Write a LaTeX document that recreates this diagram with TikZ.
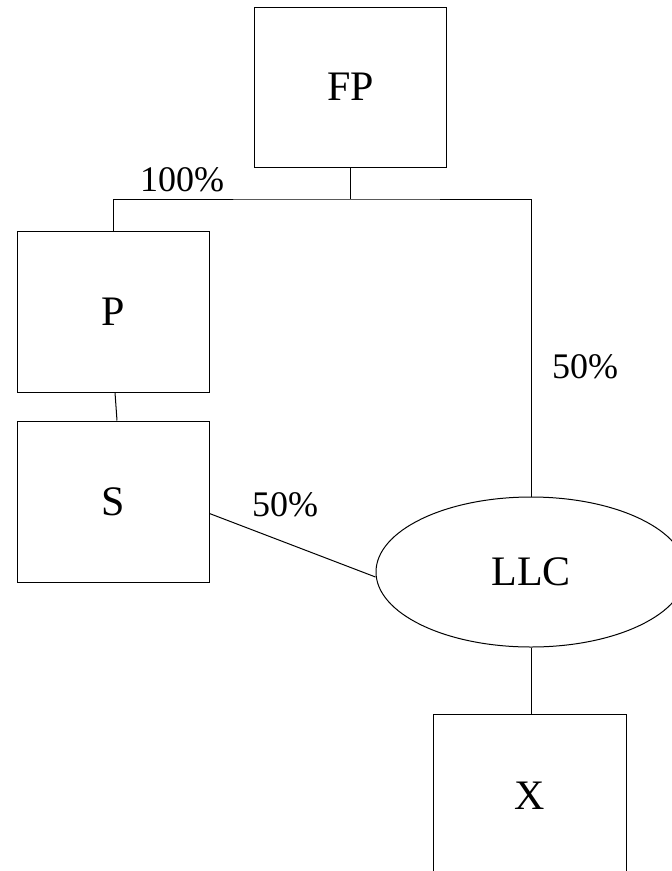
\documentclass[tikz,border=0pt]{standalone}
\usepackage{fontspec}
\setmainfont{Liberation Serif}
\usetikzlibrary{positioning,shapes.geometric}

\begin{document}
\begin{tikzpicture}[
        x=1pt,y=-1pt,
        node distance=28pt,
        every node/.style={font=\fontsize{42}{50}\selectfont},
        entity/.style={draw,line width=1pt,minimum width=192pt,minimum height=160pt,inner sep=0pt},
        llc/.style={draw,ellipse,line width=1pt,minimum width=310pt,minimum height=150pt,inner sep=0pt},
        share/.style={font=\fontsize{36}{42}\selectfont,inner sep=0pt},
        link/.style={line width=1pt}
      ]
        \useasboundingbox (0,0) rectangle (672,871);
        \clip (0,0) rectangle (672,871);
        \node[entity] (fp) at (350.5,87) {FP};
        \node[entity,minimum height=161pt] (p) at (113,311.5) {P};
        \node[entity,minimum height=161pt,below=of p] (s) {S};
        \node[llc] (llc) at (531,572) {LLC};
        \node[entity,minimum width=193pt,minimum height=164pt] (x) at (530,796) {X};
        \coordinate (split) at (350.5,199);
        % ownership labels
        \node[share] (own-p) at (182,180) {100\%};
        \node[share] (own-fp) at (585,367) {50\%};
        \node[share] (own-s) at (285,505) {50\%};
        % connectors
        \draw[link] (fp) -- (split);
        \draw[link] (p.north) |- (split) -| (llc.north);
        \draw[link] ([xshift=2pt]p.south) -- ([xshift=4pt]s.north);
        \draw[link] ([yshift=-12pt]s.east) -- ([yshift=-5pt]llc.west);
        \draw[link] (llc.south) -- (llc.south |- x.north);
      \end{tikzpicture}
\end{document}
